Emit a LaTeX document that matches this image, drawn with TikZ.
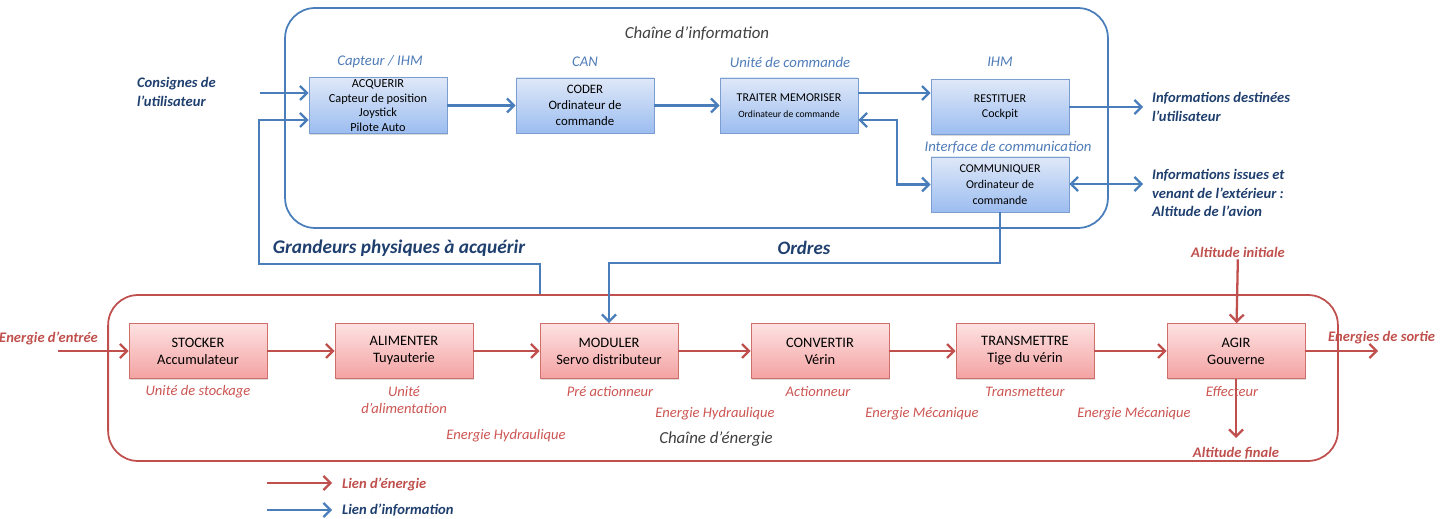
\documentclass[tikz,border=0pt]{standalone}
\usepackage{fontspec}
\setmainfont{Carlito}
\usetikzlibrary{arrows.meta,calc,positioning,shadows}
\definecolor{blutop}{HTML}{DFE8F8}
\definecolor{blubot}{HTML}{9CBDF0}
\definecolor{bludrw}{HTML}{7C9DD0}
\definecolor{bluarr}{HTML}{4A7EBB}
\definecolor{blutxt}{HTML}{1F3F6E}
\definecolor{blulbl}{HTML}{4F7CB8}
\definecolor{redtop}{HTML}{FDE2E2}
\definecolor{redbot}{HTML}{F4A2A2}
\definecolor{reddrw}{HTML}{D06E6B}
\definecolor{redarr}{HTML}{C0504D}
\definecolor{redlbl}{HTML}{CC5552}
\definecolor{gritxt}{HTML}{404040}
\tikzset{
    recblu/.style={draw=bludrw,top color=blutop,bottom color=blubot,minimum width=2.76cm,minimum height=1.1cm,align=center,inner sep=1pt,text=black,font=\fontsize{6.8}{9}\selectfont,drop shadow={opacity=.3,shadow xshift=.6pt,shadow yshift=-.8pt}},
    recred/.style={draw=reddrw,top color=redtop,bottom color=redbot,minimum width=2.76cm,minimum height=1.1cm,align=center,inner sep=1pt,text=black,font=\fontsize{8.2}{9.7}\selectfont,drop shadow={opacity=.3,shadow xshift=.6pt,shadow yshift=-.8pt}},
    cntblu/.style={draw=bluarr,line width=1pt,rounded corners=.6cm,minimum width=16.46cm,minimum height=4.4cm},
    cntred/.style={draw=redarr,line width=1pt,rounded corners=.6cm,minimum width=24.6cm,minimum height=3.32cm},
    lblblu/.style={text=blulbl,font=\fontsize{8.4}{10}\selectfont\itshape,inner sep=1pt},
    lblred/.style={text=redlbl,font=\fontsize{8.3}{9.7}\selectfont\itshape,inner sep=1pt,align=center},
    txtblu/.style={text=blutxt,font=\fontsize{8.3}{10.5}\selectfont\bfseries\itshape,align=left,inner sep=1pt},
    txtred/.style={text=redarr,font=\fontsize{8.3}{10.5}\selectfont\bfseries\itshape,inner sep=1pt},
    titgry/.style={text=gritxt,font=\fontsize{9.6}{11}\selectfont\itshape,inner sep=1pt},
    flbblu/.style={draw=bluarr,line width=1.3pt,-{Straight Barb[length=4pt,width=8pt]}},
    flbred/.style={draw=redarr,line width=1.3pt,-{Straight Barb[length=4pt,width=8pt]}},
    flbdbl/.style={draw=bluarr,line width=1.3pt,{Straight Barb[length=4pt,width=8pt]}-{Straight Barb[length=4pt,width=8pt]}}
}
\begin{document}
\begin{tikzpicture}[x=0.02cm,y=-0.02cm]
    \useasboundingbox (0,0) rectangle (1449,519);

    % Chaine d'information
    \node[cntblu] (chaineinf) at (696.5,118) {};
    \node[titgry] (titinf) at (697,34) {Chaîne d'information};
    \node[recblu,font=\fontsize{7}{8.3}\selectfont] (acquerir) at (378,105.5) {ACQUERIR\\Capteur de position\\Joystick\\Pilote Auto};
    \node[recblu,font=\fontsize{7.3}{9}\selectfont] (coder) at (585,105.5) {CODER\\Ordinateur de\\commande};
    \node[recblu] (traiter) at (789,105.5) {TRAITER MEMORISER\\{\fontsize{5.5}{6.5}\selectfont Ordinateur de commande}};
    \node[recblu] (restituer) at (1000,107) {RESTITUER\\Cockpit};
    \node[recblu] (communiquer) at (1000,184.5) {COMMUNIQUER\\Ordinateur de\\commande};
    \node[lblblu] (lblacq) at (380,62) {Capteur / IHM};
    \node[lblblu] (lblcod) at (585,62) {CAN};
    \node[lblblu] (lbltra) at (790,62) {Unité de commande};
    \node[lblblu] (lblres) at (1000,62) {IHM};
    \node[lblblu] (lblcom) at (1008,147) {Interface de communication};

    % entrees et sorties information
    \node[txtblu,anchor=west] (consignes) at (135,92) {Consignes de\\l'utilisateur};
    \coordinate (conscoin) at (260,93);
    \node[txtblu,anchor=west] (infodest) at (1150,107) {Informations destinées\\l'utilisateur};
    \node[txtblu,anchor=west] (infoext) at (1150,193) {Informations issues et\\venant de l'extérieur :\\Altitude de l'avion};
    \coordinate (extcoin) at (1143,184);
    \coordinate (grdcoin) at (259,264);
    \node[txtblu,font=\fontsize{11}{13}\selectfont\bfseries\itshape] (grandeurs) at (399,248) {Grandeurs physiques à acquérir};
    \node[txtblu,font=\fontsize{10.8}{13}\selectfont\bfseries\itshape] (ordres) at (804,248) {Ordres};

    % Chaine d'energie
    \node[cntred] (chaineen) at (723,378) {};
    \node[titgry] (titen) at (716,439) {Chaîne d'énergie};
    \node[recred] (stocker) at (198,351) {STOCKER\\Accumulateur};
    \node[recred] (alimenter) at (404,351) {ALIMENTER\\Tuyauterie};
    \node[recred] (moduler) at (609,351) {MODULER\\Servo distributeur};
    \node[recred] (convertir) at (820,351) {CONVERTIR\\Vérin};
    \node[recred] (transmettre) at (1025,351) {TRANSMETTRE\\Tige du vérin};
    \node[recred] (agir) at (1236,351) {AGIR\\Gouverne};
    \node[lblred] (lblsto) at (198,392) {Unité de stockage};
    \node[lblred,anchor=north] (lblali) at (404,384) {Unité\\d'alimentation};
    \node[lblred] (lblmod) at (610,392) {Pré actionneur};
    \node[lblred] (lblcon) at (818,392) {Actionneur};
    \node[lblred] (lbltrs) at (1025,392) {Transmetteur};
    \node[lblred] (lblagi) at (1232,392) {Effecteur};
    \node[lblred] (enhyd1) at (506,436) {Energie Hydraulique};
    \node[lblred] (enhyd2) at (715,414) {Energie Hydraulique};
    \node[lblred] (enmec1) at (922,414) {Energie Mécanique};
    \node[lblred] (enmec2) at (1134,414) {Energie Mécanique};

    % entrees et sorties energie
    \node[txtred,anchor=east] (entree) at (100,338) {Energie d'entrée};
    \coordinate (entcoin) at (58,351);
    \node[txtred,anchor=west] (sortie) at (1326,338) {Energies de sortie};
    \coordinate (sortcoin) at (1378,351);
    \node[txtred] (altini) at (1238,252) {Altitude initiale};
    \node[txtred] (altfin) at (1236,453) {Altitude finale};
    \coordinate (altcoin) at (1236,438);

    % liens d'information
    \draw[flbblu] (conscoin) -- (acquerir.west |- conscoin);
    \draw[flbblu] (moduler.west |- chaineen.north) -- (moduler.west |- grdcoin) -- (grdcoin) |- ($(acquerir.west)+(0,14.5)$);
    \draw[flbblu] (acquerir) -- (coder);
    \draw[flbblu] (coder) -- (traiter);
    \draw[flbblu] ($(traiter.east)+(0,-12.5)$) coordinate (tracoin) -- (restituer.west |- tracoin);
    \draw[flbdbl] ($(traiter.east)+(0,14.5)$) -| ($(communiquer.west)+(-34,0)$) -- (communiquer.west);
    \draw[flbblu] (restituer.east) -- (restituer.east -| extcoin);
    \draw[flbdbl] (communiquer.east |- extcoin) -- (extcoin);
    \draw[flbblu] (communiquer.south) -- ++(0,51) -| (moduler.north);

    % liens d'energie
    \draw[flbred] (entcoin) -- (stocker.west);
    \draw[flbred] (stocker) -- (alimenter);
    \draw[flbred] (alimenter) -- (moduler);
    \draw[flbred] (moduler) -- (convertir);
    \draw[flbred] (convertir) -- (transmettre);
    \draw[flbred] (transmettre) -- (agir);
    \draw[flbred] (agir) -- (sortcoin);
    \draw[flbred] (altini) -- (agir);
    \draw[flbred] (agir) -- (altcoin);

    % legende
    \coordinate (legena) at (267,483);
    \coordinate (legenb) at (332,483);
    \coordinate (leginfa) at (267,510);
    \coordinate (leginfb) at (332,510);
    \draw[flbred] (legena) -- (legenb);
    \draw[flbblu] (leginfa) -- (leginfb);
    \node[txtred,anchor=west] (legen) at (340,484) {Lien d'énergie};
    \node[txtblu,anchor=west] (leginf) at (340,510) {Lien d'information};
\end{tikzpicture}
\end{document}
